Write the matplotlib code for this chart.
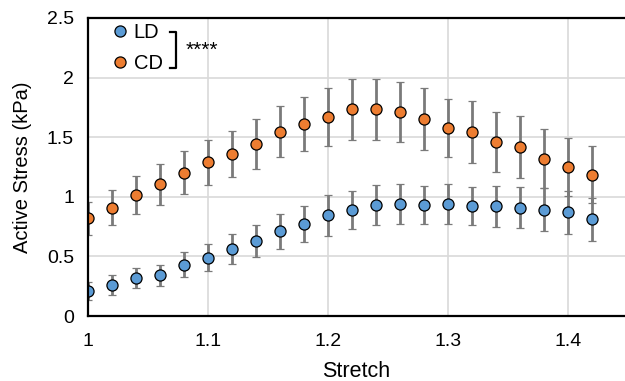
import matplotlib.pyplot as plt
from matplotlib.ticker import FuncFormatter
from matplotlib.lines import Line2D

plt.rcParams['font.family'] = ['Liberation Sans', 'DejaVu Sans']

# Stretch values
stretch = [1.00, 1.02, 1.04, 1.06, 1.08, 1.10, 1.12, 1.14, 1.16, 1.18, 1.20,
           1.22, 1.24, 1.26, 1.28, 1.30, 1.32, 1.34, 1.36, 1.38, 1.40, 1.42]

# LD series (mean, error)
ld_mean = [0.21, 0.26, 0.32, 0.34, 0.43, 0.49, 0.565, 0.63, 0.71, 0.77, 0.845,
           0.89, 0.93, 0.94, 0.93, 0.94, 0.92, 0.92, 0.91, 0.89, 0.87, 0.81]
ld_err = [0.075, 0.08, 0.085, 0.09, 0.105, 0.115, 0.125, 0.135, 0.145, 0.15, 0.17,
          0.16, 0.165, 0.165, 0.16, 0.165, 0.16, 0.17, 0.175, 0.18, 0.18, 0.18]

# CD series (mean, error)
cd_mean = [0.82, 0.91, 1.015, 1.105, 1.20, 1.29, 1.36, 1.445, 1.545, 1.61, 1.67,
           1.735, 1.735, 1.71, 1.65, 1.575, 1.545, 1.46, 1.42, 1.32, 1.25, 1.185]
cd_err = [0.14, 0.15, 0.16, 0.17, 0.18, 0.19, 0.195, 0.21, 0.215, 0.225, 0.24,
          0.255, 0.255, 0.25, 0.26, 0.245, 0.26, 0.25, 0.26, 0.25, 0.24, 0.24]

blue = '#5B9BD5'
orange = '#ED7D31'
err_color = '#7A7A7A'

fig = plt.figure(figsize=(6.25, 3.81), dpi=100)
ax = fig.add_axes([0.1408, 0.1706, 0.8592, 0.7822])

for mean, err, color, label in [(ld_mean, ld_err, blue, 'LD'), (cd_mean, cd_err, orange, 'CD')]:
    ax.errorbar(stretch, mean, yerr=err, fmt='o', color=color, ecolor=err_color,
                elinewidth=2.0, capsize=2.6, capthick=1.9, markersize=8,
                markeredgecolor='black', markeredgewidth=0.9, label=label)

ax.set_xlim(1, 1.4475)
ax.set_ylim(0, 2.5)
ax.set_xticks([1, 1.1, 1.2, 1.3, 1.4])
ax.set_yticks([0, 0.5, 1, 1.5, 2, 2.5])
fmt = FuncFormatter(lambda v, p: f'{v:g}')
ax.xaxis.set_major_formatter(fmt)
ax.yaxis.set_major_formatter(fmt)
ax.tick_params(length=0, labelsize=14)
ax.tick_params(axis='x', pad=12)
ax.tick_params(axis='y', pad=10)
ax.grid(True, color='#D9D9D9', linewidth=1.2)
ax.set_axisbelow(True)

for s in ['left', 'bottom', 'top']:
    ax.spines[s].set_linewidth(1.6)
    ax.spines[s].set_color('black')
ax.spines['right'].set_visible(False)

ax.set_xlabel('Stretch', fontsize=15.5, labelpad=8)
ax.set_ylabel('Active Stress (kPa)', fontsize=14.5, labelpad=11)

handles = [Line2D([], [], marker='o', linestyle='none', color=c, markersize=8,
                  markeredgecolor='black', markeredgewidth=0.9) for c in (blue, orange)]
ax.legend(handles, ['LD', 'CD'], loc='upper left', bbox_to_anchor=(0.01, 1.045),
          frameon=False, fontsize=14.5, handlelength=0.8, handletextpad=0.3,
          labelspacing=0.6)

# significance bracket
ax.plot([0.153, 0.164, 0.164, 0.153], [0.953, 0.953, 0.832, 0.832],
        transform=ax.transAxes, color='black', linewidth=1.6, clip_on=False)
ax.text(0.182, 0.893, '****', transform=ax.transAxes, fontsize=15, va='center')

fig.savefig('out.png', dpi=100)
